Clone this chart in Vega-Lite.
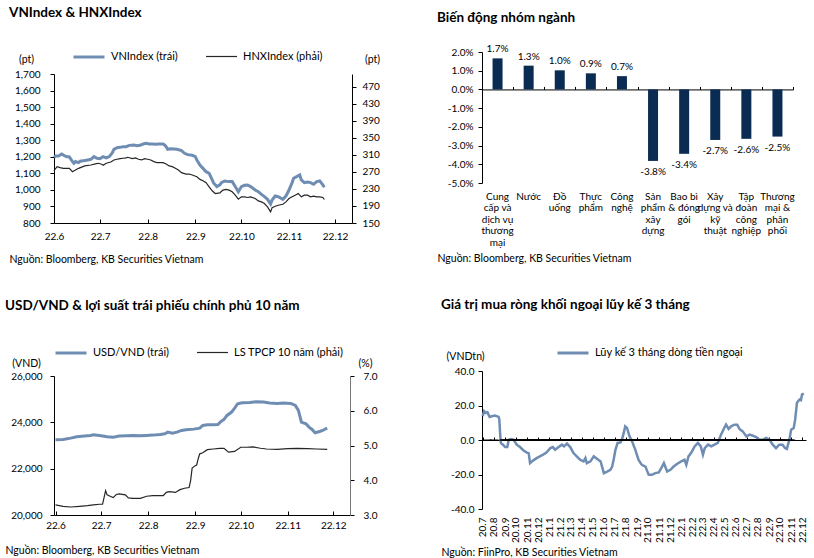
{
  "$schema": "https://vega.github.io/schema/vega-lite/v6.json",
  "background": "white",
  "padding": {"left": 5, "top": 5, "right": 5, "bottom": 3},
  "config": {
    "font": "Lato",
    "view": {"stroke": null},
    "locale": {"number": {"decimal": ".", "thousands": ",", "grouping": [3], "currency": ["$", ""], "minus": "-"}},
    "title": {"anchor": "start", "font": "Lato", "fontSize": 13.5, "fontWeight": "bold", "color": "#000000"},
    "axis": {"grid": false, "labelFont": "Lato", "labelFontSize": 10, "labelColor": "#000000", "domainColor": "#000000", "tickColor": "#000000", "tickSize": 4, "titleFont": "Lato", "titleFontSize": 10.5, "titleFontWeight": "normal", "titleColor": "#000000", "labelFlush": false},
    "legend": {"labelFont": "Lato", "labelFontSize": 11, "labelColor": "#000000", "labelLimit": 300, "symbolType": "stroke", "symbolSize": 961, "labelOffset": 5, "columnPadding": 25, "gridAlign": "none", "direction": "horizontal", "orient": "none", "title": null},
    "line": {"interpolate": "linear"}
  },
  "datasets": {
    "vn": [
      {"date": "2022-06-01", "v": 1197}, {"date": "2022-06-02", "v": 1205}, {"date": "2022-06-04", "v": 1205}, {"date": "2022-06-06", "v": 1217},
      {"date": "2022-06-07", "v": 1211}, {"date": "2022-06-09", "v": 1201}, {"date": "2022-06-11", "v": 1199}, {"date": "2022-06-13", "v": 1171},
      {"date": "2022-06-14", "v": 1161}, {"date": "2022-06-15", "v": 1171}, {"date": "2022-06-17", "v": 1165}, {"date": "2022-06-18", "v": 1173},
      {"date": "2022-06-21", "v": 1177}, {"date": "2022-06-23", "v": 1181}, {"date": "2022-06-25", "v": 1185}, {"date": "2022-06-27", "v": 1201},
      {"date": "2022-06-29", "v": 1191}, {"date": "2022-07-01", "v": 1189}, {"date": "2022-07-03", "v": 1201}, {"date": "2022-07-05", "v": 1193},
      {"date": "2022-07-07", "v": 1201}, {"date": "2022-07-09", "v": 1225}, {"date": "2022-07-10", "v": 1245}, {"date": "2022-07-12", "v": 1255},
      {"date": "2022-07-14", "v": 1257}, {"date": "2022-07-16", "v": 1261}, {"date": "2022-07-18", "v": 1261}, {"date": "2022-07-20", "v": 1269},
      {"date": "2022-07-23", "v": 1271}, {"date": "2022-07-25", "v": 1267}, {"date": "2022-07-27", "v": 1269}, {"date": "2022-07-29", "v": 1277},
      {"date": "2022-07-31", "v": 1281}, {"date": "2022-08-02", "v": 1277}, {"date": "2022-08-04", "v": 1277}, {"date": "2022-08-06", "v": 1275},
      {"date": "2022-08-08", "v": 1277}, {"date": "2022-08-11", "v": 1277}, {"date": "2022-08-12", "v": 1271}, {"date": "2022-08-13", "v": 1261},
      {"date": "2022-08-14", "v": 1245}, {"date": "2022-08-16", "v": 1249}, {"date": "2022-08-18", "v": 1247}, {"date": "2022-08-20", "v": 1245},
      {"date": "2022-08-23", "v": 1237}, {"date": "2022-08-25", "v": 1221}, {"date": "2022-08-27", "v": 1213}, {"date": "2022-08-30", "v": 1209},
      {"date": "2022-09-01", "v": 1201}, {"date": "2022-09-02", "v": 1181}, {"date": "2022-09-04", "v": 1150}, {"date": "2022-09-06", "v": 1130},
      {"date": "2022-09-08", "v": 1110}, {"date": "2022-09-10", "v": 1100}, {"date": "2022-09-12", "v": 1060}, {"date": "2022-09-13", "v": 1040},
      {"date": "2022-09-15", "v": 1020}, {"date": "2022-09-17", "v": 1030}, {"date": "2022-09-18", "v": 1044}, {"date": "2022-09-20", "v": 1054},
      {"date": "2022-09-23", "v": 1050}, {"date": "2022-09-25", "v": 1050}, {"date": "2022-09-27", "v": 1020}, {"date": "2022-09-29", "v": 989},
      {"date": "2022-10-01", "v": 1020}, {"date": "2022-10-03", "v": 1028}, {"date": "2022-10-05", "v": 1030}, {"date": "2022-10-07", "v": 1020},
      {"date": "2022-10-10", "v": 999}, {"date": "2022-10-12", "v": 989}, {"date": "2022-10-14", "v": 973}, {"date": "2022-10-16", "v": 959},
      {"date": "2022-10-18", "v": 943}, {"date": "2022-10-20", "v": 915}, {"date": "2022-10-21", "v": 939}, {"date": "2022-10-23", "v": 963},
      {"date": "2022-10-25", "v": 959}, {"date": "2022-10-28", "v": 943}, {"date": "2022-10-30", "v": 963}, {"date": "2022-11-01", "v": 999},
      {"date": "2022-11-03", "v": 1044}, {"date": "2022-11-04", "v": 1070}, {"date": "2022-11-06", "v": 1080}, {"date": "2022-11-08", "v": 1090},
      {"date": "2022-11-09", "v": 1060}, {"date": "2022-11-11", "v": 1044}, {"date": "2022-11-13", "v": 1048}, {"date": "2022-11-15", "v": 1044},
      {"date": "2022-11-17", "v": 1034}, {"date": "2022-11-19", "v": 1050}, {"date": "2022-11-21", "v": 1054}, {"date": "2022-11-23", "v": 1030},
      {"date": "2022-11-24", "v": 1016}
    ],
    "hnx": [
      {"date": "2022-06-01", "v": 273}, {"date": "2022-06-03", "v": 282.4}, {"date": "2022-06-05", "v": 280}, {"date": "2022-06-07", "v": 278.4},
      {"date": "2022-06-11", "v": 278.4}, {"date": "2022-06-13", "v": 270.6}, {"date": "2022-06-15", "v": 274.5}, {"date": "2022-06-17", "v": 278.4},
      {"date": "2022-06-21", "v": 284}, {"date": "2022-06-25", "v": 286.3}, {"date": "2022-06-28", "v": 288.7}, {"date": "2022-06-30", "v": 290.3},
      {"date": "2022-07-02", "v": 287.9}, {"date": "2022-07-03", "v": 285.5}, {"date": "2022-07-05", "v": 290.3}, {"date": "2022-07-08", "v": 293.4},
      {"date": "2022-07-10", "v": 298.1}, {"date": "2022-07-12", "v": 299.7}, {"date": "2022-07-14", "v": 301.3}, {"date": "2022-07-16", "v": 302.1},
      {"date": "2022-07-18", "v": 302.9}, {"date": "2022-07-19", "v": 304.4}, {"date": "2022-07-22", "v": 301.3}, {"date": "2022-07-24", "v": 302.9},
      {"date": "2022-07-26", "v": 299.7}, {"date": "2022-07-28", "v": 298.1}, {"date": "2022-07-30", "v": 301.3}, {"date": "2022-08-01", "v": 299.7},
      {"date": "2022-08-03", "v": 298.1}, {"date": "2022-08-05", "v": 294.2}, {"date": "2022-08-07", "v": 291.8}, {"date": "2022-08-11", "v": 291.8},
      {"date": "2022-08-13", "v": 288.7}, {"date": "2022-08-15", "v": 284}, {"date": "2022-08-17", "v": 282.4}, {"date": "2022-08-19", "v": 278.4},
      {"date": "2022-08-21", "v": 274.5}, {"date": "2022-08-23", "v": 268.2}, {"date": "2022-08-26", "v": 265}, {"date": "2022-08-28", "v": 265},
      {"date": "2022-08-30", "v": 262.7}, {"date": "2022-09-02", "v": 258.7}, {"date": "2022-09-04", "v": 252.4}, {"date": "2022-09-06", "v": 249.3},
      {"date": "2022-09-08", "v": 244.6}, {"date": "2022-09-10", "v": 235.1}, {"date": "2022-09-12", "v": 225.6}, {"date": "2022-09-14", "v": 219.3},
      {"date": "2022-09-17", "v": 220.9}, {"date": "2022-09-19", "v": 227.2}, {"date": "2022-09-21", "v": 228.8}, {"date": "2022-09-23", "v": 227.2},
      {"date": "2022-09-25", "v": 223.3}, {"date": "2022-09-27", "v": 215.4}, {"date": "2022-09-29", "v": 206}, {"date": "2022-10-01", "v": 211.5},
      {"date": "2022-10-03", "v": 211.5}, {"date": "2022-10-05", "v": 209.9}, {"date": "2022-10-07", "v": 211.5}, {"date": "2022-10-10", "v": 207.5},
      {"date": "2022-10-12", "v": 202}, {"date": "2022-10-14", "v": 199.6}, {"date": "2022-10-16", "v": 195.7}, {"date": "2022-10-18", "v": 187.8},
      {"date": "2022-10-20", "v": 176}, {"date": "2022-10-21", "v": 186.2}, {"date": "2022-10-23", "v": 189.4}, {"date": "2022-10-25", "v": 191.8},
      {"date": "2022-10-28", "v": 194.1}, {"date": "2022-10-30", "v": 199.6}, {"date": "2022-11-01", "v": 207.5}, {"date": "2022-11-03", "v": 211.5},
      {"date": "2022-11-05", "v": 215.4}, {"date": "2022-11-07", "v": 219.3}, {"date": "2022-11-09", "v": 211.5}, {"date": "2022-11-11", "v": 215.4},
      {"date": "2022-11-13", "v": 215.4}, {"date": "2022-11-15", "v": 211.5}, {"date": "2022-11-17", "v": 213}, {"date": "2022-11-19", "v": 211.5},
      {"date": "2022-11-21", "v": 211.5}, {"date": "2022-11-23", "v": 209.9}, {"date": "2022-11-24", "v": 205.2}
    ],
    "usd": [
      {"date": "2022-06-01", "v": 23250}, {"date": "2022-06-06", "v": 23260}, {"date": "2022-06-11", "v": 23318}, {"date": "2022-06-15", "v": 23376},
      {"date": "2022-06-20", "v": 23405}, {"date": "2022-06-24", "v": 23433}, {"date": "2022-06-26", "v": 23462}, {"date": "2022-06-30", "v": 23433},
      {"date": "2022-07-05", "v": 23376}, {"date": "2022-07-09", "v": 23361}, {"date": "2022-07-13", "v": 23405}, {"date": "2022-07-18", "v": 23419},
      {"date": "2022-07-22", "v": 23433}, {"date": "2022-07-27", "v": 23419}, {"date": "2022-07-31", "v": 23433}, {"date": "2022-08-04", "v": 23448},
      {"date": "2022-08-09", "v": 23476}, {"date": "2022-08-12", "v": 23505}, {"date": "2022-08-14", "v": 23577}, {"date": "2022-08-17", "v": 23534},
      {"date": "2022-08-20", "v": 23577}, {"date": "2022-08-23", "v": 23650}, {"date": "2022-08-26", "v": 23678}, {"date": "2022-08-31", "v": 23707},
      {"date": "2022-09-04", "v": 23750}, {"date": "2022-09-06", "v": 23866}, {"date": "2022-09-09", "v": 23895}, {"date": "2022-09-13", "v": 23895},
      {"date": "2022-09-16", "v": 23909}, {"date": "2022-09-18", "v": 24039}, {"date": "2022-09-20", "v": 24125}, {"date": "2022-09-22", "v": 24298},
      {"date": "2022-09-25", "v": 24443}, {"date": "2022-09-27", "v": 24616}, {"date": "2022-09-29", "v": 24803}, {"date": "2022-10-02", "v": 24846},
      {"date": "2022-10-07", "v": 24861}, {"date": "2022-10-11", "v": 24890}, {"date": "2022-10-16", "v": 24875}, {"date": "2022-10-20", "v": 24832},
      {"date": "2022-10-25", "v": 24818}, {"date": "2022-10-29", "v": 24832}, {"date": "2022-11-03", "v": 24818}, {"date": "2022-11-06", "v": 24731},
      {"date": "2022-11-08", "v": 24515}, {"date": "2022-11-10", "v": 24010}, {"date": "2022-11-13", "v": 23938}, {"date": "2022-11-15", "v": 23794},
      {"date": "2022-11-17", "v": 23693}, {"date": "2022-11-19", "v": 23549}, {"date": "2022-11-22", "v": 23606}, {"date": "2022-11-24", "v": 23650},
      {"date": "2022-11-26", "v": 23722}, {"date": "2022-11-27", "v": 23750}
    ],
    "bond": [
      {"date": "2022-06-01", "v": 3.29}, {"date": "2022-06-06", "v": 3.25}, {"date": "2022-06-11", "v": 3.23}, {"date": "2022-06-17", "v": 3.25},
      {"date": "2022-06-22", "v": 3.27}, {"date": "2022-06-26", "v": 3.29}, {"date": "2022-06-30", "v": 3.31}, {"date": "2022-07-02", "v": 3.31},
      {"date": "2022-07-04", "v": 3.70}, {"date": "2022-07-05", "v": 3.58}, {"date": "2022-07-07", "v": 3.54}, {"date": "2022-07-09", "v": 3.50},
      {"date": "2022-07-11", "v": 3.59}, {"date": "2022-07-13", "v": 3.61}, {"date": "2022-07-17", "v": 3.58}, {"date": "2022-07-19", "v": 3.49},
      {"date": "2022-07-22", "v": 3.48}, {"date": "2022-07-27", "v": 3.48}, {"date": "2022-07-31", "v": 3.54}, {"date": "2022-08-04", "v": 3.56},
      {"date": "2022-08-11", "v": 3.56}, {"date": "2022-08-13", "v": 3.65}, {"date": "2022-08-15", "v": 3.67}, {"date": "2022-08-19", "v": 3.65},
      {"date": "2022-08-22", "v": 3.73}, {"date": "2022-08-25", "v": 3.77}, {"date": "2022-08-28", "v": 3.79}, {"date": "2022-08-29", "v": 3.99},
      {"date": "2022-08-30", "v": 4.35}, {"date": "2022-09-01", "v": 4.42}, {"date": "2022-09-02", "v": 4.44}, {"date": "2022-09-03", "v": 4.62},
      {"date": "2022-09-04", "v": 4.76}, {"date": "2022-09-06", "v": 4.79}, {"date": "2022-09-09", "v": 4.88}, {"date": "2022-09-13", "v": 4.90},
      {"date": "2022-09-17", "v": 4.92}, {"date": "2022-09-20", "v": 4.92}, {"date": "2022-09-23", "v": 4.81}, {"date": "2022-09-27", "v": 4.83},
      {"date": "2022-10-01", "v": 4.95}, {"date": "2022-10-05", "v": 4.95}, {"date": "2022-10-09", "v": 4.96}, {"date": "2022-10-14", "v": 4.92},
      {"date": "2022-10-18", "v": 4.90}, {"date": "2022-10-25", "v": 4.89}, {"date": "2022-11-01", "v": 4.91}, {"date": "2022-11-07", "v": 4.92},
      {"date": "2022-11-14", "v": 4.91}, {"date": "2022-11-20", "v": 4.90}, {"date": "2022-11-27", "v": 4.89}
    ],
    "nganh": [
      {"nganh": "Cung cấp và dịch vụ thương mại", "pct": 0.0166},
      {"nganh": "Nước", "pct": 0.0127},
      {"nganh": "Đồ uống", "pct": 0.0102},
      {"nganh": "Thực phẩm", "pct": 0.0086},
      {"nganh": "Công nghệ", "pct": 0.0071},
      {"nganh": "Sản phẩm xây dựng", "pct": -0.0382},
      {"nganh": "Bao bì & đóng gói", "pct": -0.0344},
      {"nganh": "Xây dựng và kỹ thuật", "pct": -0.0270},
      {"nganh": "Tập đoàn công nghiệp", "pct": -0.0264},
      {"nganh": "Thương mại & phân phối", "pct": -0.0252}
    ],
    "ngoai": [
      {"date": "2020-07-01", "v": 13.8}, {"date": "2020-07-05", "v": 16.7}, {"date": "2020-07-10", "v": 15.7}, {"date": "2020-07-14", "v": 16.1},
      {"date": "2020-07-20", "v": 13.4}, {"date": "2020-07-26", "v": 13.8}, {"date": "2020-08-04", "v": 14.2}, {"date": "2020-08-14", "v": 13.4},
      {"date": "2020-08-16", "v": 11.8}, {"date": "2020-08-18", "v": 4.1}, {"date": "2020-08-20", "v": -1.7}, {"date": "2020-08-26", "v": -2.7},
      {"date": "2020-09-01", "v": -4.1}, {"date": "2020-09-07", "v": -4.1}, {"date": "2020-09-11", "v": 0.2}, {"date": "2020-09-17", "v": 0.6},
      {"date": "2020-09-24", "v": 0.2}, {"date": "2020-10-03", "v": -2.7}, {"date": "2020-10-12", "v": -4.1}, {"date": "2020-10-22", "v": -6.1},
      {"date": "2020-10-31", "v": -7.3}, {"date": "2020-11-05", "v": -7.6}, {"date": "2020-11-09", "v": -13.4}, {"date": "2020-11-18", "v": -11.8},
      {"date": "2020-11-27", "v": -10.5}, {"date": "2020-12-06", "v": -9.5}, {"date": "2020-12-15", "v": -8.5}, {"date": "2020-12-24", "v": -7.3},
      {"date": "2021-01-04", "v": -4.7}, {"date": "2021-01-11", "v": -4.1}, {"date": "2021-01-17", "v": -5.7}, {"date": "2021-01-27", "v": -4.1},
      {"date": "2021-02-05", "v": -2.7}, {"date": "2021-02-11", "v": -3.7}, {"date": "2021-02-19", "v": -2.1}, {"date": "2021-02-28", "v": -4.1},
      {"date": "2021-03-09", "v": -7.6}, {"date": "2021-03-18", "v": -9.5}, {"date": "2021-03-28", "v": -11.5}, {"date": "2021-04-06", "v": -12.4},
      {"date": "2021-04-11", "v": -10.5}, {"date": "2021-04-15", "v": -13.4}, {"date": "2021-04-25", "v": -12.4}, {"date": "2021-05-04", "v": -9.5},
      {"date": "2021-05-13", "v": -10.9}, {"date": "2021-05-23", "v": -12.4}, {"date": "2021-06-01", "v": -19.2}, {"date": "2021-06-10", "v": -18.3},
      {"date": "2021-06-19", "v": -17.3}, {"date": "2021-06-24", "v": -15.4}, {"date": "2021-06-28", "v": -11.5}, {"date": "2021-07-03", "v": -5.7},
      {"date": "2021-07-09", "v": -1.7}, {"date": "2021-07-17", "v": -1.4}, {"date": "2021-07-21", "v": 0.2}, {"date": "2021-07-26", "v": 4.1},
      {"date": "2021-07-30", "v": 7.9}, {"date": "2021-08-04", "v": 7.0}, {"date": "2021-08-11", "v": 2.1}, {"date": "2021-08-18", "v": -0.8},
      {"date": "2021-08-27", "v": -5.7}, {"date": "2021-09-05", "v": -11.5}, {"date": "2021-09-14", "v": -14.4}, {"date": "2021-09-24", "v": -15.4},
      {"date": "2021-10-03", "v": -20.2}, {"date": "2021-10-12", "v": -20.2}, {"date": "2021-10-21", "v": -19.2}, {"date": "2021-10-31", "v": -18.8},
      {"date": "2021-11-09", "v": -15.4}, {"date": "2021-11-14", "v": -13.4}, {"date": "2021-11-23", "v": -18.3}, {"date": "2021-12-02", "v": -17.3},
      {"date": "2021-12-11", "v": -15.4}, {"date": "2021-12-21", "v": -13.8}, {"date": "2022-01-01", "v": -12.4}, {"date": "2022-01-10", "v": -11.5},
      {"date": "2022-01-15", "v": -14.4}, {"date": "2022-01-21", "v": -9.5}, {"date": "2022-01-29", "v": -7.3}, {"date": "2022-02-07", "v": -3.7},
      {"date": "2022-02-16", "v": -1.7}, {"date": "2022-02-24", "v": -3.7}, {"date": "2022-03-02", "v": -8.5}, {"date": "2022-03-07", "v": -4.7},
      {"date": "2022-03-16", "v": -2.7}, {"date": "2022-03-25", "v": -3.7}, {"date": "2022-04-03", "v": -2.7}, {"date": "2022-04-12", "v": -1.7},
      {"date": "2022-04-21", "v": 3.1}, {"date": "2022-04-30", "v": 7.0}, {"date": "2022-05-05", "v": 8.9}, {"date": "2022-05-12", "v": 6.4},
      {"date": "2022-05-19", "v": 7.9}, {"date": "2022-05-28", "v": 8.9}, {"date": "2022-06-05", "v": 8.9}, {"date": "2022-06-11", "v": 6.4},
      {"date": "2022-06-20", "v": 5.0}, {"date": "2022-06-30", "v": 2.1}, {"date": "2022-07-09", "v": 3.1}, {"date": "2022-07-18", "v": 2.5},
      {"date": "2022-07-27", "v": 1.7}, {"date": "2022-08-05", "v": 0.2}, {"date": "2022-08-15", "v": 0.2}, {"date": "2022-08-24", "v": 1.2},
      {"date": "2022-09-02", "v": 0.2}, {"date": "2022-09-11", "v": -2.7}, {"date": "2022-09-20", "v": -4.7}, {"date": "2022-09-29", "v": -2.7},
      {"date": "2022-10-08", "v": -2.7}, {"date": "2022-10-15", "v": -4.7}, {"date": "2022-10-20", "v": -5.2}, {"date": "2022-10-27", "v": 0.2},
      {"date": "2022-11-01", "v": 6.0}, {"date": "2022-11-08", "v": 7.0}, {"date": "2022-11-12", "v": 11.8}, {"date": "2022-11-17", "v": 21.6},
      {"date": "2022-11-24", "v": 23.5}, {"date": "2022-11-28", "v": 23.1}, {"date": "2022-12-01", "v": 26.4}, {"date": "2022-12-06", "v": 26.8}
    ]
  },
  "columns": 2,
  "align": "none",
  "spacing": 57,
  "resolve": {"scale": {"color": "independent", "strokeWidth": "independent"}, "legend": {"color": "independent", "strokeWidth": "independent"}},
  "concat": [
    {
      "columns": 1,
      "align": "none",
      "spacing": 33,
      "resolve": {"scale": {"color": "independent", "strokeWidth": "independent"}, "legend": {"color": "independent", "strokeWidth": "independent"}},
      "concat": [
        {
          "width": 298, "height": 171,
          "title": {"text": "VNIndex & HNXIndex", "offset": 21},
          "encoding": {
            "x": {"field": "date", "type": "temporal",
              "scale": {"domain": [{"year": 2022, "month": 6, "date": 1}, {"year": 2022, "month": 12, "date": 12}]},
              "axis": {"format": "%y.%-m", "tickCount": {"interval": "month", "step": 1}, "tickSize": -4, "labelPadding": 12,
                "title": "Nguồn: Bloomberg, KB Securities Vietnam", "titleX": -45, "titleAlign": "left", "titleBaseline": "top", "titlePadding": 13}}
          },
          "layer": [
            {
              "data": {"name": "hnx"},
              "mark": {"type": "line"},
              "encoding": {
                "y": {"field": "v", "type": "quantitative", "scale": {"domain": [150, 551.7], "nice": false},
                  "axis": {"orient": "right", "domainDash": [149, 40], "values": [150, 190, 230, 270, 310, 350, 390, 430, 470], "format": ".0f", "labelPadding": 6, "labelOverlap": false,
                    "title": "(pt)", "titleAngle": 0, "titleX": 20, "titleY": 12, "titleAlign": "center", "titleBaseline": "bottom"}},
                "color": {"datum": "HNXIndex (phải)", "scale": {"domain": ["VNIndex (trái)", "HNXIndex (phải)"], "range": ["#6f8db3", "#262626"]},
                  "legend": {"legendX": 18, "legendY": -12}},
                "strokeWidth": {"datum": "HNXIndex (phải)", "scale": {"domain": ["VNIndex (trái)", "HNXIndex (phải)"], "range": [3, 1.2]}}
              }
            },
            {
              "data": {"name": "vn"},
              "mark": {"type": "line"},
              "encoding": {
                "y": {"field": "v", "type": "quantitative", "scale": {"domain": [800, 1832.9], "nice": false},
                  "axis": {"orient": "left", "domainDash": [149, 40], "values": [800, 900, 1000, 1100, 1200, 1300, 1400, 1500, 1600, 1700], "format": ",.0f", "labelPadding": 10, "labelOverlap": false,
                    "title": "(pt)", "titleAngle": 0, "titleX": -28, "titleY": 12, "titleAlign": "center", "titleBaseline": "bottom"}},
                "color": {"datum": "VNIndex (trái)", "scale": {"domain": ["VNIndex (trái)", "HNXIndex (phải)"], "range": ["#6f8db3", "#262626"]}},
                "strokeWidth": {"datum": "VNIndex (trái)", "scale": {"domain": ["VNIndex (trái)", "HNXIndex (phải)"], "range": [3, 1.2]}}
              }
            }
          ],
          "resolve": {"scale": {"y": "independent"}}
        },
        {
          "width": 296, "height": 139,
          "title": {"text": "USD/VND & lợi suất trái phiếu chính phủ 10 năm", "offset": 24},
          "encoding": {
            "x": {"field": "date", "type": "temporal",
              "scale": {"domain": [{"year": 2022, "month": 5, "date": 31}, {"year": 2022, "month": 12, "date": 12}]},
              "axis": {"format": "%y.%-m", "tickCount": {"interval": "month", "step": 1}, "tickSize": -4, "labelPadding": 9,
                "title": "Nguồn: Bloomberg, KB Securities Vietnam", "titleX": -49, "titleAlign": "left", "titleBaseline": "top", "titlePadding": 15}}
          },
          "layer": [
            {
              "data": {"name": "bond"},
              "mark": {"type": "line"},
              "encoding": {
                "y": {"field": "v", "type": "quantitative", "scale": {"domain": [3, 7], "nice": false},
                  "axis": {"orient": "right", "values": [3, 4, 5, 6, 7], "format": ".1f", "labelPadding": 9, "labelOverlap": false, "domainColor": "#777777",
                    "title": "(%)", "titleAngle": 0, "titleX": 15, "titleY": -8, "titleAlign": "center", "titleBaseline": "bottom"}},
                "color": {"datum": "LS TPCP 10 năm (phải)", "scale": {"domain": ["USD/VND (trái)", "LS TPCP 10 năm (phải)"], "range": ["#6f8db3", "#262626"]},
                  "legend": {"legendX": 0, "legendY": -40}},
                "strokeWidth": {"datum": "LS TPCP 10 năm (phải)", "scale": {"domain": ["USD/VND (trái)", "LS TPCP 10 năm (phải)"], "range": [3, 1.2]}}
              }
            },
            {
              "data": {"name": "usd"},
              "mark": {"type": "line"},
              "encoding": {
                "y": {"field": "v", "type": "quantitative", "scale": {"domain": [20000, 26000], "nice": false},
                  "axis": {"orient": "left", "values": [20000, 22000, 24000, 26000], "format": ",.0f", "labelPadding": 8, "labelOverlap": false,
                    "title": "(VND)", "titleAngle": 0, "titleX": -28, "titleY": -8, "titleAlign": "center", "titleBaseline": "bottom"}},
                "color": {"datum": "USD/VND (trái)", "scale": {"domain": ["USD/VND (trái)", "LS TPCP 10 năm (phải)"], "range": ["#6f8db3", "#262626"]}},
                "strokeWidth": {"datum": "USD/VND (trái)", "scale": {"domain": ["USD/VND (trái)", "LS TPCP 10 năm (phải)"], "range": [3, 1.2]}}
              }
            }
          ],
          "resolve": {"scale": {"y": "independent"}}
        }
      ]
    },
    {
      "columns": 1,
      "align": "none",
      "spacing": 33,
      "resolve": {"scale": {"color": "independent", "strokeWidth": "independent"}, "legend": {"color": "independent", "strokeWidth": "independent"}},
      "concat": [
        {
          "width": 311, "height": 131,
          "title": {"text": "Biến động nhóm ngành", "offset": 20},
          "data": {"name": "nganh"},
          "encoding": {
            "y": {"field": "pct", "type": "quantitative", "scale": {"domain": [-0.05, 0.02], "nice": false},
              "axis": {"values": [-0.05, -0.04, -0.03, -0.02, -0.01, 0, 0.01, 0.02], "format": ".1%", "title": null, "labelPadding": 5, "labelOverlap": false}}
          },
          "layer": [
            {
              "mark": {"type": "bar", "size": 10, "color": "#0b2c52"},
              "encoding": {
                "x": {"field": "nganh", "type": "nominal", "sort": null,
                  "scale": {"domain": ["Cung cấp và dịch vụ thương mại", "Nước", "Đồ uống", "Thực phẩm", "Công nghệ", "Sản phẩm xây dựng", "Bao bì & đóng gói", "Xây dựng và kỹ thuật", "Tập đoàn công nghiệp", "Thương mại & phân phối"], "paddingInner": 0, "paddingOuter": 0},
                  "axis": {"orient": "bottom", "domain": false, "ticks": false, "labelAngle": 0, "labelPadding": 8, "labelLineHeight": 11.5, "labelBaseline": "top",
                    "labelExpr": "{'Cung cấp và dịch vụ thương mại': ['Cung', 'cấp và', 'dịch vụ', 'thương', 'mại'], 'Nước': ['Nước'], 'Đồ uống': ['Đồ', 'uống'], 'Thực phẩm': ['Thực', 'phẩm'], 'Công nghệ': ['Công', 'nghệ'], 'Sản phẩm xây dựng': ['Sản', 'phẩm', 'xây', 'dựng'], 'Bao bì & đóng gói': ['Bao bì', '& đóng', 'gói'], 'Xây dựng và kỹ thuật': ['Xây', 'dựng và', 'kỹ', 'thuật'], 'Tập đoàn công nghiệp': ['Tập', 'đoàn', 'công', 'nghiệp'], 'Thương mại & phân phối': ['Thương', 'mại &', 'phân', 'phối']}[datum.value]",
                    "title": "Nguồn: Bloomberg, KB Securities Vietnam", "titleX": -45, "titleAlign": "left", "titleBaseline": "top", "titlePadding": 6}}
              }
            },
            {
              "transform": [{"filter": "datum.pct >= 0"}],
              "mark": {"type": "text", "baseline": "bottom", "dy": -4, "fontSize": 10, "font": "Lato"},
              "encoding": {
                "x": {"field": "nganh", "type": "nominal", "sort": null,
                  "axis": {"orient": "top", "offset": -37.43, "labels": false, "ticks": true, "tickBand": "extent", "tickSize": 3, "domain": true, "title": null}},
                "text": {"field": "pct", "type": "quantitative", "format": ".1%"}
              }
            },
            {
              "transform": [{"filter": "datum.pct < 0"}],
              "mark": {"type": "text", "baseline": "top", "dy": 6, "fontSize": 10, "font": "Lato"},
              "encoding": {
                "x": {"field": "nganh", "type": "nominal", "sort": null, "axis": null},
                "text": {"field": "pct", "type": "quantitative", "format": ".1%"}
              }
            }
          ],
          "resolve": {"axis": {"x": "independent"}}
        },
        {
          "width": 324, "height": 138,
          "title": {"text": "Giá trị mua ròng khối ngoại lũy kế 3 tháng", "offset": 25},
          "data": {"name": "ngoai"},
          "encoding": {
            "y": {"field": "v", "type": "quantitative", "scale": {"domain": [-40, 40], "nice": false},
              "axis": {"values": [-40, -20, 0, 20, 40], "format": ".1f", "labelPadding": 4, "labelOverlap": false,
                "title": "(VNDtn)", "titleAngle": 0, "titleX": -17, "titleY": -10, "titleAlign": "center", "titleBaseline": "bottom"}}
          },
          "layer": [
            {
              "mark": {"type": "line", "strokeWidth": 2.5},
              "encoding": {
                "x": {"field": "date", "type": "temporal",
                  "scale": {"domain": [{"year": 2020, "month": 6, "date": 29}, {"year": 2022, "month": 12, "date": 12}]},
                  "axis": {"orient": "bottom", "format": "%y.%-m", "tickCount": {"interval": "month", "step": 1}, "domain": false, "ticks": false,
                    "labelAngle": -90, "labelPadding": 8, "labelOverlap": false,
                    "title": "Nguồn: FiinPro, KB Securities Vietnam", "titleX": -41, "titleAlign": "left", "titleBaseline": "top", "titlePadding": 5}},
                "color": {"datum": "Lũy kế 3 tháng dòng tiền ngoại", "scale": {"domain": ["Lũy kế 3 tháng dòng tiền ngoại"], "range": ["#6f8db3"]},
                  "legend": {"legendX": 74, "legendY": -35, "symbolStrokeWidth": 3}}
              }
            },
            {
              "mark": {"type": "rule", "color": "#000000", "strokeWidth": 1},
              "encoding": {
                "x": {"field": "date", "type": "temporal", "aggregate": "min",
                  "axis": {"orient": "top", "offset": -69, "labels": false, "ticks": true, "tickSize": 3, "domain": true, "title": null, "tickCount": {"interval": "month", "step": 1}}},
                "x2": {"field": "date", "aggregate": "max"},
                "y": {"datum": 0}
              }
            }
          ],
          "resolve": {"axis": {"x": "independent"}}
        }
      ]
    }
  ]
}
